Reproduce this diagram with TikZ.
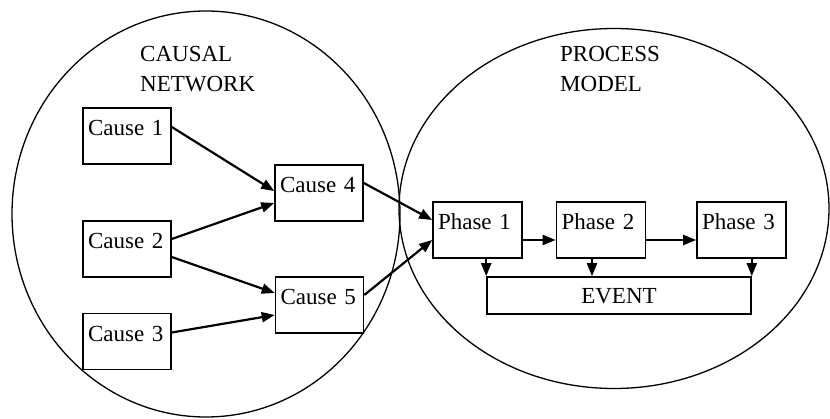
\documentclass[tikz,border=0pt]{standalone}
\usepackage{fontspec}
\setmainfont{Liberation Serif}
\usetikzlibrary{arrows.meta,calc}
\begin{document}
\begin{tikzpicture}[x=1pt,y=-1pt,
  every node/.style={font=\fontsize{23}{28}\selectfont},
  box/.style={draw,line width=1.6pt,inner xsep=5pt,inner ysep=0pt,align=left,
    text height=28pt,text depth=28pt},
  cbox/.style={box,minimum width=88pt,text width=78pt},
  pbox/.style={box,minimum width=89pt,text width=79pt},
  arr/.style={line width=2.2pt,-{Triangle[length=13pt,width=10pt]}},
  oval/.style={draw,line width=1.3pt},
  title/.style={anchor=base west,inner sep=0pt}]
\useasboundingbox (0,0) rectangle (830,419);
% ellipses
\draw[oval] (206,214) ellipse [x radius=194pt, y radius=203pt];
\draw[oval] (614,208.5) ellipse [x radius=215pt, y radius=180pt];
% titles
\node[title] (t1) at (140,62) {CAUSAL};
\node[title] (t2) at (140,92) {NETWORK};
\node[title] (t3) at (560,62) {PROCESS};
\node[title] (t4) at (560,92) {MODEL};
% boxes
\node[cbox] (c1) at (127,136) {Cause 1};
\node[cbox] (c2) at (127,249) {Cause 2};
\node[cbox] (c3) at (127,341.5) {Cause 3};
\node[cbox] (c4) at (319,193) {Cause 4};
\node[cbox] (c5) at (319.5,305) {Cause 5};
\node[pbox] (p1) at (477.5,230) {Phase 1};
\node[pbox] (p2) at (601,230) {Phase 2};
\node[pbox] (p3) at (741.5,230) {Phase 3};
\node[draw,line width=1.6pt,minimum width=264pt,inner sep=0pt,
  text height=26.5pt,text depth=10.5pt] (ev) at (619,295.5) {EVENT};
% arrows
\draw[arr] ([yshift=9pt]c1.east) -- ([yshift=2pt]c4.west);
\draw[arr] ([yshift=10pt]c2.east) -- ([yshift=-10pt]c4.west);
\draw[arr] ([yshift=-8pt]c2.east) -- ([yshift=12pt]c5.west);
\draw[arr] ([yshift=9pt]c3.east) -- ([yshift=-10pt]c5.west);
\draw[arr] ([yshift=10pt]c4.east) -- ([yshift=10pt]p1.west);
\draw[arr] ([yshift=10pt]c5.east) -- ([yshift=-10pt]p1.west);
\draw[arr] ([yshift=-10pt]p1.east) -- ([yshift=-10pt]p2.west);
\draw[arr] ([yshift=-10pt]p2.east) -- ([yshift=-10pt]p3.west);
\draw[arr] (p1.south -| ev.north west) -- (ev.north west);
\draw[arr] ([xshift=-9pt]p2.south) -- ([xshift=-9pt]p2.south |- ev.north);
\draw[arr] (p3.south -| ev.north east) -- (ev.north east);
\end{tikzpicture}
\end{document}
